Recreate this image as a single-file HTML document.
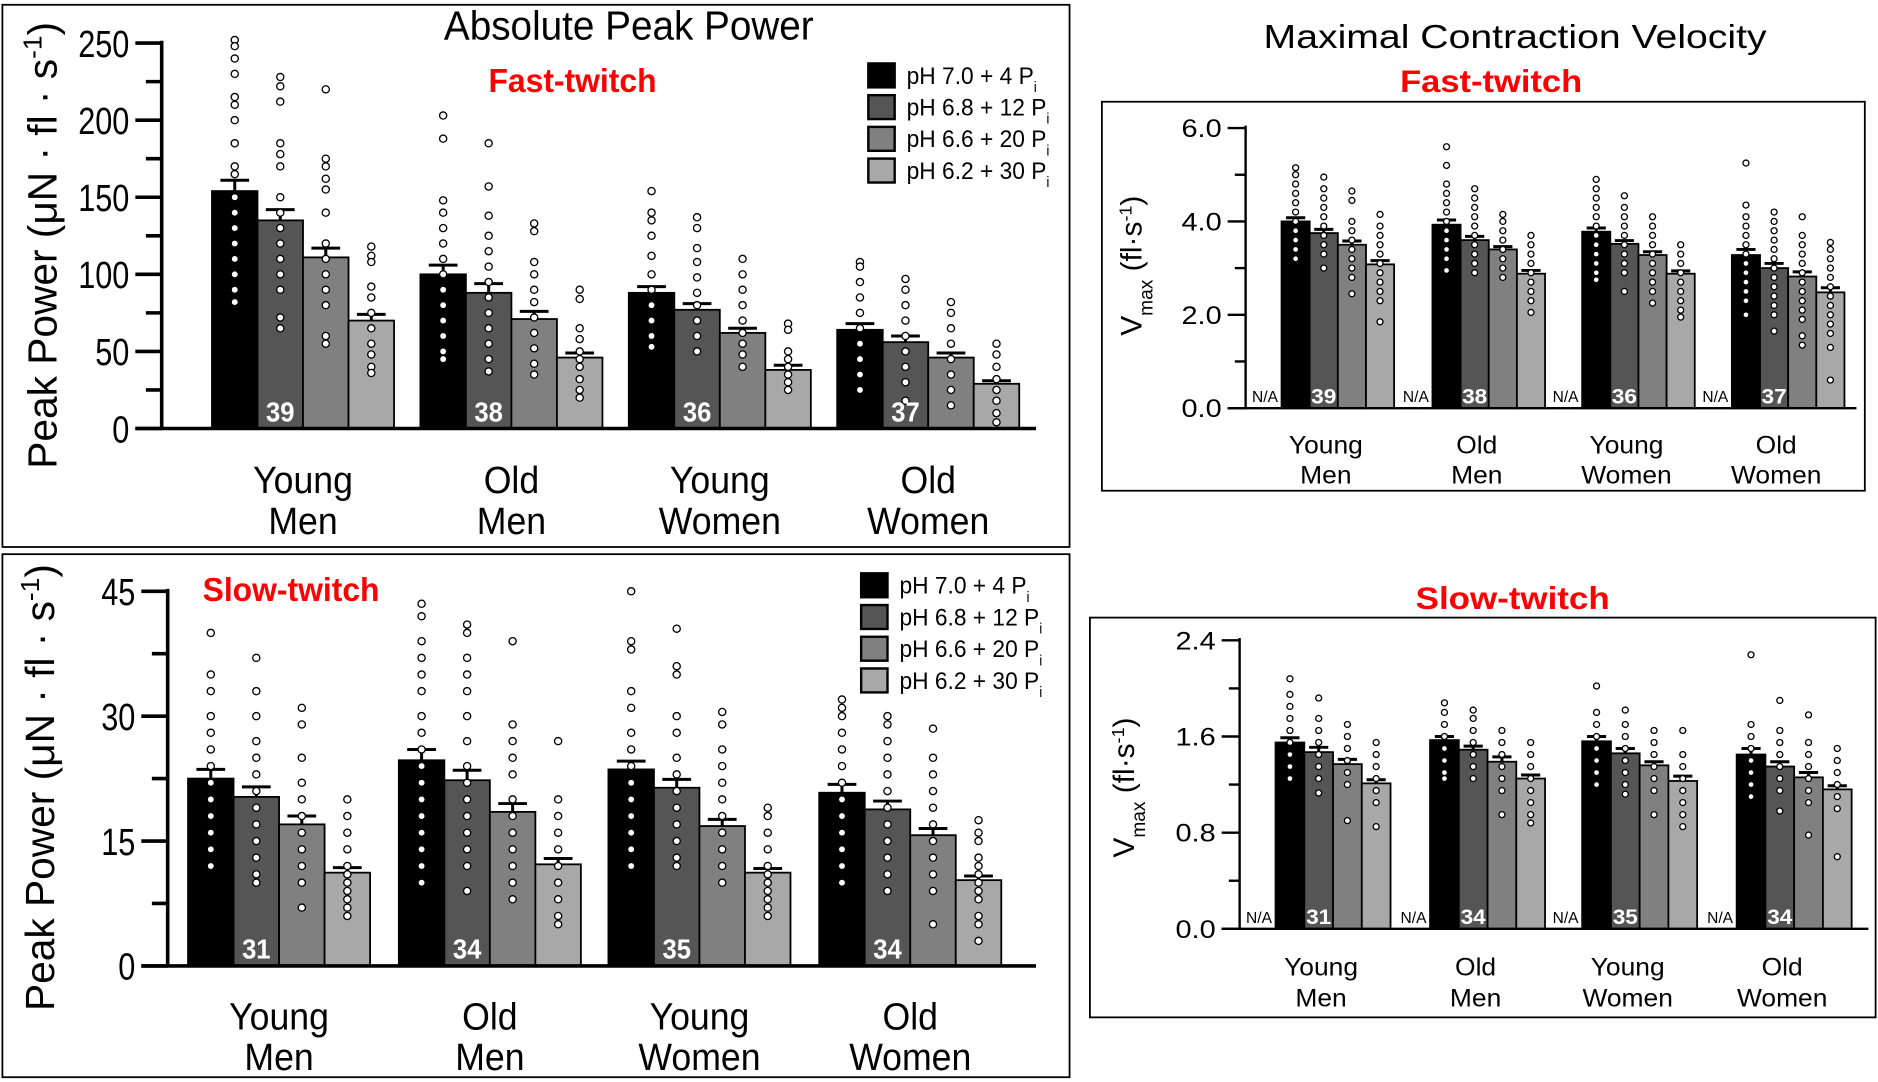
<!DOCTYPE html>
<html><head><meta charset="utf-8"><style>
html,body{margin:0;padding:0;background:#fff;}
svg{display:block;}
text{font-family:"Liberation Sans",sans-serif;}
</style></head><body>
<svg id="fig" width="1878" height="1082" viewBox="0 0 1568 904" preserveAspectRatio="none" xmlns="http://www.w3.org/2000/svg">
<rect x="2" y="4" width="891" height="453" fill="none" stroke="#000" stroke-width="1.5"/>
<rect x="2" y="463" width="891" height="437" fill="none" stroke="#000" stroke-width="1.5"/>
<rect x="920" y="85" width="637" height="325" fill="none" stroke="#000" stroke-width="1.5"/>
<rect x="910" y="516" width="656" height="334" fill="none" stroke="#000" stroke-width="1.5"/>
<text transform="translate(525,33) scale(0.95,1)" font-size="34" text-anchor="middle">Absolute Peak Power</text>
<text transform="translate(478,77) scale(0.95,1)" font-size="28" font-weight="bold" fill="#f00" text-anchor="middle">Fast-twitch</text>
<text transform="translate(243,502) scale(0.95,1)" font-size="28" font-weight="bold" fill="#f00" text-anchor="middle">Slow-twitch</text>
<text x="1265" y="40" font-size="28" text-anchor="middle" textLength="420" lengthAdjust="spacingAndGlyphs">Maximal Contraction Velocity</text>
<text x="1245" y="77" font-size="26" font-weight="bold" fill="#f00" text-anchor="middle" textLength="152" lengthAdjust="spacingAndGlyphs">Fast-twitch</text>
<text x="1263" y="509" font-size="26" font-weight="bold" fill="#f00" text-anchor="middle" textLength="162" lengthAdjust="spacingAndGlyphs">Slow-twitch</text>
<text transform="translate(47,205) rotate(-90)" font-size="34" text-anchor="middle">Peak Power (μN · fl · s<tspan baseline-shift="super" font-size="22">-1</tspan>)</text>
<text transform="translate(45,658) rotate(-90)" font-size="34" text-anchor="middle">Peak Power (μN · fl · s<tspan baseline-shift="super" font-size="22">-1</tspan>)</text>
<text transform="translate(953,222) rotate(-90)" font-size="25" text-anchor="middle">V<tspan baseline-shift="sub" font-size="16">max</tspan> (fl·s<tspan baseline-shift="super" font-size="15">-1</tspan>)</text>
<text transform="translate(947,658) rotate(-90)" font-size="25" text-anchor="middle">V<tspan baseline-shift="sub" font-size="16">max</tspan> (fl·s<tspan baseline-shift="super" font-size="15">-1</tspan>)</text>
</svg>
<script>
const groups = [["Young","Men"],["Old","Men"],["Young","Women"],["Old","Women"]];
const legendLabels = ["pH 7.0 + 4 P","pH 6.8 + 12 P","pH 6.6 + 20 P","pH 6.2 + 30 P"];
const fills = ["#000","#555","#808080","#a8a8a8"];

const fastPowerMeans = [[154,135,111,70],[100,88,71,46],[88,77,62,38],[64,56,46,29]];
const fastPowerSem = [[7,7,6,4],[6,6,5,3],[4,4,3,3],[4,4,3,2]];
const fastPowerN = [39,38,36,37];
const fastPowerPts = [
 [[252,248,240,230,215,210,200,185,170,165,150,140,130,120,110,100,90,82],[228,222,212,185,178,170,150,140,130,120,110,100,90,72,65],[220,175,170,162,155,140,120,110,100,90,80,60,55],[118,112,108,92,85,75,65,55,48,40,36]],
 [[203,188,148,140,130,120,110,100,90,80,70,60,50,45],[185,157,138,125,115,105,95,85,75,65,55,45,37],[133,128,108,100,90,82,72,62,52,42,35],[90,84,65,58,50,45,40,32,25,20]],
 [[154,140,135,125,112,100,90,80,70,60,53],[137,130,117,108,98,88,80,70,60,50],[110,100,90,80,70,62,55,48,40],[68,64,50,45,40,35,30,25]],
 [[108,105,95,85,75,65,55,45,35,25],[97,90,80,70,60,50,40,30,18],[82,75,65,55,45,35,25,15],[55,48,40,32,25,18,10,4]]];
const fastPowerTicks = [0,50,100,150,200,250];

const slowPowerMeans = [[22.5,20.3,17,11.2],[24.7,22.3,18.5,12.2],[23.6,21.4,16.8,11.2],[20.8,18.8,15.7,10.3]];
const slowPowerSem = [[1.1,1.2,1,0.6],[1.3,1.2,1,0.7],[1,1,0.8,0.5],[1,1,0.8,0.5]];
const slowPowerN = [31,34,35,34];
const slowPowerPts = [
 [[40,35,33,30,28,26,24,22,20,18,16,14,12],[37,33,30,27,25,23,21,19,17,15,13,11,10],[31,29,25,22,20,18,16,14,12,10,7],[20,18,16,14,12,11,10,9,8,7,6]],
 [[43.5,42,39,37,35,33,30,28,26,24,22,20,18,16,14,12,10],[41,40,37,35,33,30,27,24,22,20,18,16,14,12,9],[39,29,27,25,23,20,18,16,14,12,10,8],[27,20,18,16,14,12,10,8,6,5]],
 [[45,39,38,33,31,28,26,24,22,20,18,16,14,12],[40.5,36,35,30,28,25,23,21,19,17,15,13,12],[30.5,29,26,24,22,20,18,16,14,12,10],[19,18,16,14,12,11,10,9,8,7,6]],
 [[32,31,30,28,26,24,22,20,18,16,14,12,10],[30,29,27,25,23,21,19,17,15,13,11,9],[28.5,25,23,21,19,17,15,13,11,9,5],[17.5,16,15,13,12,11,10,9,8,6,5,3]]];
const slowPowerTicks = [0,15,30,45];

const fastVmaxMeans = [[4.0,3.75,3.5,3.08],[3.93,3.6,3.4,2.88],[3.78,3.52,3.28,2.88],[3.28,3.0,2.82,2.48]];
const fastVmaxSem = [[0.08,0.08,0.08,0.08],[0.1,0.08,0.06,0.07],[0.08,0.07,0.07,0.06],[0.12,0.1,0.1,0.1]];
const fastVmaxPts = [
 [[5.15,5.0,4.8,4.6,4.4,4.2,4.0,3.8,3.6,3.4,3.2],[4.95,4.7,4.5,4.3,4.1,3.9,3.7,3.5,3.3,3.0],[4.65,4.45,4.0,3.8,3.6,3.4,3.2,3.0,2.8,2.45],[4.15,3.9,3.7,3.5,3.3,3.1,2.9,2.7,2.5,2.3,1.85]],
 [[5.6,5.2,4.8,4.6,4.4,4.2,4.0,3.8,3.6,3.4,3.2,2.95],[4.7,4.5,4.3,4.1,3.9,3.7,3.5,3.3,3.1,2.9],[4.15,4.0,3.8,3.6,3.4,3.2,3.0,2.8],[3.7,3.5,3.3,3.1,2.9,2.7,2.5,2.3,2.05]],
 [[4.9,4.7,4.5,4.3,4.1,3.9,3.7,3.5,3.3,3.1,2.9,2.75],[4.55,4.3,4.1,3.9,3.7,3.5,3.3,3.1,2.9,2.5],[4.1,3.9,3.7,3.5,3.3,3.1,2.9,2.7,2.5,2.25],[3.5,3.3,3.1,2.9,2.7,2.5,2.3,2.1,1.95]],
 [[5.25,4.35,4.1,3.9,3.7,3.5,3.3,3.1,2.9,2.7,2.5,2.3,2.0],[4.2,4.0,3.8,3.6,3.4,3.2,3.0,2.8,2.6,2.4,2.2,2.0,1.65],[4.1,3.7,3.5,3.3,3.1,2.9,2.7,2.5,2.3,2.1,1.9,1.55,1.35],[3.55,3.4,3.2,3.0,2.8,2.6,2.4,2.2,2.0,1.8,1.6,1.3,0.6]]];
const fastVmaxTicks = [0,2,4,6];

const slowVmaxMeans = [[1.55,1.47,1.37,1.21],[1.57,1.49,1.39,1.25],[1.56,1.46,1.36,1.23],[1.45,1.35,1.26,1.16]];
const slowVmaxSem = [[0.04,0.04,0.04,0.03],[0.03,0.03,0.04,0.03],[0.04,0.04,0.03,0.04],[0.05,0.04,0.04,0.03]];
const slowVmaxPts = [
 [[2.08,1.95,1.85,1.75,1.65,1.55,1.45,1.35,1.25],[1.92,1.75,1.65,1.55,1.45,1.35,1.25,1.13],[1.7,1.6,1.5,1.4,1.3,1.2,0.9],[1.55,1.45,1.35,1.25,1.15,1.05,0.85]],
 [[1.88,1.8,1.7,1.6,1.5,1.4,1.3,1.25],[1.82,1.75,1.65,1.55,1.45,1.35,1.25],[1.65,1.55,1.45,1.35,1.25,1.15,0.95],[1.55,1.45,1.35,1.25,1.15,1.05,0.95,0.88]],
 [[2.02,1.8,1.7,1.6,1.5,1.4,1.3,1.2],[1.82,1.7,1.6,1.5,1.4,1.3,1.2,1.12],[1.65,1.55,1.45,1.35,1.25,1.15,0.95],[1.65,1.45,1.35,1.25,1.15,1.05,0.95,0.85]],
 [[2.28,1.7,1.6,1.5,1.4,1.3,1.2,1.1],[1.9,1.65,1.55,1.45,1.35,1.25,1.15,0.98],[1.78,1.55,1.45,1.35,1.25,1.15,1.05,0.78],[1.5,1.4,1.3,1.2,1.1,1.0,0.6]]];
const slowVmaxTicks = [0,0.8,1.6,2.4];

const NS = "http://www.w3.org/2000/svg";
const svg = document.getElementById("fig");
function mk(tag, attrs, parent){
  const e = document.createElementNS(NS, tag);
  for (const k in attrs) e.setAttribute(k, attrs[k]);
  (parent||svg).appendChild(e);
  return e;
}
function txt(parent, x, y, sx, attrs){
  const a = Object.assign({transform: `translate(${x},${y}) scale(${sx},1)`}, attrs);
  return mk("text", a, parent);
}

function drawPanel(cfg){
  const g = mk("g", {});
  
  
  const yMax = cfg.ticks[cfg.ticks.length-1];
  const ys = v => cfg.y0 - (v / yMax) * (cfg.y0 - cfg.yTop);
  cfg.means.forEach((gm, gi) => {
    gm.forEach((m, bi) => {
      const x = cfg.starts[gi] + bi * cfg.bw;
      const r = mk("rect", {x: x, y: ys(m), width: cfg.bw, height: cfg.y0 - ys(m), fill: fills[bi], stroke: "#000", "stroke-width": 1.5}, g);
      
      
      const cx = x + cfg.bw/2;
      const top = ys(m + cfg.sem[gi][bi]);
      const eb = mk("path", {d: `M${cx},${ys(m)}V${top}M${cx-cfg.cap},${top}H${cx+cfg.cap}`, stroke: "#000", "stroke-width": 2.5, fill: "none"}, g);
      
      
      cfg.pts[gi][bi].forEach(p => {
        const c = mk("circle", {cx: cx, cy: ys(p), r: cfg.pr, fill: "#fff", stroke: "#000", "stroke-width": 1.1}, g);
        
        
      });
    });
    const nt = txt(g, cfg.starts[gi] + cfg.bw*1.5, cfg.y0 - cfg.nOff, cfg.sx, {"font-size": cfg.nSize, "font-weight": "bold", fill: "#fff", "text-anchor": "middle"});
    nt.textContent = cfg.n[gi];
    
    
    if (cfg.na) {
      const na = mk("text", {x: cfg.starts[gi] - 3, y: cfg.y0 - 5, "font-size": 13, "text-anchor": "end"}, g);
      na.textContent = "N/A";
      
      
    }
    const cx = cfg.starts[gi] + cfg.bw*2 + cfg.labShift;
    groups[gi].forEach((w, li) => {
      const t = txt(g, cx, cfg.labY + li*cfg.labGap, cfg.sx, {"font-size": cfg.labSize, "text-anchor": "middle"});
      t.textContent = w;
      
      
    });
  });
  const ax = mk("path", {d: `M${cfg.ax},${cfg.yTop-2}V${cfg.y0}M${cfg.ax - cfg.tick},${cfg.y0}H${cfg.axEnd}`, stroke: "#000", "stroke-width": cfg.axW, fill: "none"}, g);
  
  
  cfg.ticks.forEach((t, i) => {
    const y = ys(t);
    mk("path", {d: `M${cfg.ax - cfg.tick},${y}H${cfg.ax}`, stroke: "#000", "stroke-width": cfg.axW}, g);
    if (i < cfg.ticks.length-1) {
      const ym = ys((t + cfg.ticks[i+1])/2);
      mk("path", {d: `M${cfg.ax - cfg.tick*0.6},${ym}H${cfg.ax}`, stroke: "#000", "stroke-width": cfg.axW}, g);
    }
    const tl = txt(g, cfg.ax - cfg.tick - 5, y + cfg.tSize*0.36, cfg.tsx, {"font-size": cfg.tSize, "text-anchor": "end"});
    tl.textContent = cfg.fmt(t);
    
    
  });
  if (cfg.leg) {
    legendLabels.forEach((l, i) => {
      const y = cfg.leg[1] + i*26.5;
      const s = mk("rect", {x: cfg.leg[0], y: y-10, width: 22, height: 20, fill: fills[i], stroke: "#000", "stroke-width": 2}, g);
      
      
      const t = txt(g, cfg.leg[0] + 32, y + 7, 0.95, {"font-size": 20});
      t.textContent = l;
      const sub = document.createElementNS(NS, "tspan");
      sub.setAttribute("baseline-shift", "sub");
      sub.setAttribute("font-size", "12");
      sub.textContent = "i";
      t.appendChild(sub);
      
      
    });
  }
}

drawPanel({name:"fast-power-chart", means:fastPowerMeans, sem:fastPowerSem, pts:fastPowerPts, n:fastPowerN, ticks:fastPowerTicks,
  y0:358, yTop:36, ax:135, axEnd:865, tick:22, axW:3, starts:[177,351,525,699], bw:38, cap:12, pr:3, nOff:6, nSize:23,
  labY:412, labGap:34, labSize:32, labShift:0, tSize:32, sx:0.93, tsx:0.8, fmt:v=>String(v), leg:[725,63], na:false});
drawPanel({name:"slow-power-chart", means:slowPowerMeans, sem:slowPowerSem, pts:slowPowerPts, n:slowPowerN, ticks:slowPowerTicks,
  y0:807, yTop:494, ax:140, axEnd:865, tick:22, axW:3, starts:[157,333,508,684], bw:38, cap:12, pr:3, nOff:6, nSize:23,
  labY:860, labGap:34, labSize:32, labShift:0, tSize:32, sx:0.93, tsx:0.8, fmt:v=>String(v), leg:[719,489], na:false});
drawPanel({name:"fast-vmax-chart", means:fastVmaxMeans, sem:fastVmaxSem, pts:fastVmaxPts, n:fastPowerN, ticks:fastVmaxTicks,
  y0:341, yTop:107, ax:1040, axEnd:1550, tick:15, axW:2, starts:[1070,1196,1321,1446], bw:23.5, cap:8, pr:2.5, nOff:4, nSize:18,
  labY:379, labGap:25, labSize:21, labShift:-10, tSize:21, sx:1.05, tsx:1.15, fmt:v=>v.toFixed(1), leg:null, na:true});
drawPanel({name:"slow-vmax-chart", means:slowVmaxMeans, sem:slowVmaxSem, pts:slowVmaxPts, n:slowPowerN, ticks:slowVmaxTicks,
  y0:776, yTop:535, ax:1035, axEnd:1560, tick:15, axW:2, starts:[1065,1194,1321,1450], bw:24, cap:8, pr:2.5, nOff:4, nSize:18,
  labY:815, labGap:26, labSize:21, labShift:-10, tSize:21, sx:1.05, tsx:1.15, fmt:v=>v.toFixed(1), leg:null, na:true});
</script>
</body></html>
